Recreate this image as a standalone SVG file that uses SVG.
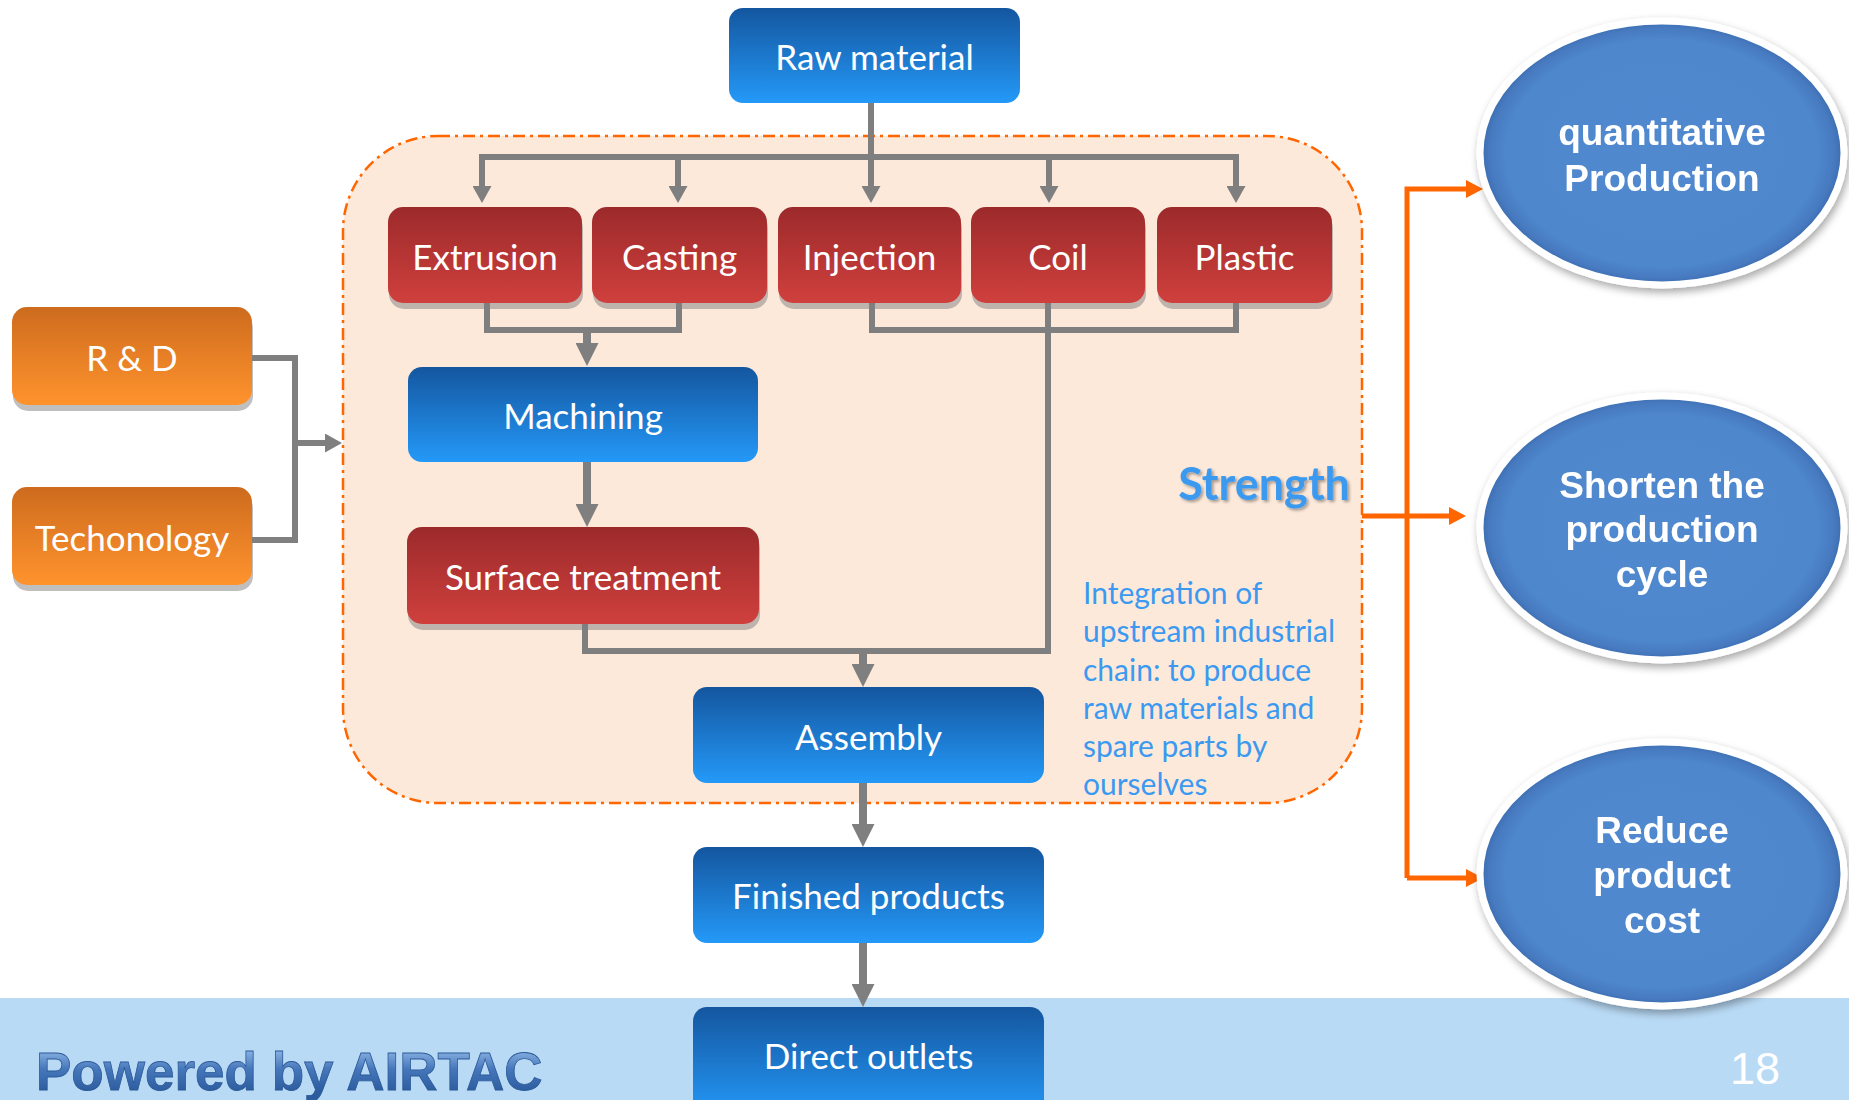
<svg xmlns="http://www.w3.org/2000/svg" width="1849" height="1100" viewBox="0 0 1849 1100">
  <defs>
    <linearGradient id="gBlue" x1="0" y1="0" x2="0" y2="1">
      <stop offset="0" stop-color="#14569f"/>
      <stop offset="1" stop-color="#2499f8"/>
    </linearGradient>
    <linearGradient id="gRed" x1="0" y1="0" x2="0" y2="1">
      <stop offset="0" stop-color="#9c2a2b"/>
      <stop offset="1" stop-color="#cf403d"/>
    </linearGradient>
    <linearGradient id="gOrange" x1="0" y1="0" x2="0" y2="1">
      <stop offset="0" stop-color="#cd6b1e"/>
      <stop offset="1" stop-color="#ff932d"/>
    </linearGradient>
    <radialGradient id="gEll" cx="0.5" cy="0.5" r="0.5">
      <stop offset="0" stop-color="#5189cf"/>
      <stop offset="0.86" stop-color="#4f87cc"/>
      <stop offset="0.95" stop-color="#4679bf"/>
      <stop offset="1" stop-color="#3a6aab"/>
    </radialGradient>
    <linearGradient id="gLogo" x1="0" y1="1050" x2="0" y2="1092" gradientUnits="userSpaceOnUse">
      <stop offset="0" stop-color="#8bb3e3"/>
      <stop offset="0.45" stop-color="#4677bb"/>
      <stop offset="1" stop-color="#2c5c9e"/>
    </linearGradient>
    <filter id="ellShadow" x="-10%" y="-10%" width="125%" height="130%">
      <feGaussianBlur in="SourceAlpha" stdDeviation="4"/>
      <feOffset dx="2" dy="4" result="b"/>
      <feComponentTransfer><feFuncA type="linear" slope="0.35"/></feComponentTransfer>
      <feMerge><feMergeNode/><feMergeNode in="SourceGraphic"/></feMerge>
    </filter>
    <filter id="txtShadow" x="-10%" y="-20%" width="125%" height="150%">
      <feGaussianBlur in="SourceAlpha" stdDeviation="1.5"/>
      <feOffset dx="2" dy="2"/>
      <feComponentTransfer><feFuncA type="linear" slope="0.35"/></feComponentTransfer>
      <feMerge><feMergeNode/><feMergeNode in="SourceGraphic"/></feMerge>
    </filter>
    <marker id="arrS" markerUnits="userSpaceOnUse" markerWidth="18" markerHeight="19" refX="2" refY="9.5" orient="auto">
      <path d="M0,0 L17,9.5 L0,19 z" fill="#7f7f7f"/>
    </marker>
    <marker id="arrL" markerUnits="userSpaceOnUse" markerWidth="23" markerHeight="23" refX="2" refY="11.5" orient="auto">
      <path d="M0,0 L23,11.5 L0,23 z" fill="#7f7f7f"/>
    </marker>
    <marker id="arrO" markerUnits="userSpaceOnUse" markerWidth="18" markerHeight="18" refX="2" refY="9" orient="auto">
      <path d="M0,0 L17,9 L0,18 z" fill="#ff6600"/>
    </marker>
    <style>
      .lbl { font-family: Lato, "Liberation Sans", sans-serif; font-size: 35px; fill: #ffffff; text-anchor: middle; }
      .ell { font-family: "Liberation Sans", Arial, sans-serif; font-weight: bold; font-size: 37px; fill: #ffffff; text-anchor: middle; }
      .blue { fill: url(#gBlue); }
      .red { fill: url(#gRed); }
      .org { fill: url(#gOrange); }
      .shd { fill: #7f7f7f; opacity: 0.5; }
      .gline { fill: none; stroke: #7f7f7f; stroke-width: 6; stroke-linejoin: miter; }
      .gthick { fill: none; stroke: #7f7f7f; stroke-width: 8; }
      .oline { fill: none; stroke: #ff6600; stroke-width: 5; }
      .note { font-family: Lato, "Liberation Sans", sans-serif; font-size: 30px; fill: #3b9af0; }
      .eshape { fill: url(#gEll); stroke: #ffffff; stroke-width: 7; }
    </style>
  </defs>

  <rect x="0" y="0" width="1849" height="1100" fill="#ffffff"/>
  <!-- footer band -->
  <rect x="0" y="998" width="1849" height="102" fill="#b9daf5"/>

  <!-- in-house production zone -->
  <g id="zone">
    <rect x="343" y="136" width="1019" height="667" rx="95" ry="95" fill="#fde9da" stroke="#ff6600" stroke-width="2.5" stroke-dasharray="12 5 3 5"/>
    <text x="1350" y="500" font-family="Lato, 'Liberation Sans', sans-serif" font-weight="bold" font-size="45" fill="#3b9af0" text-anchor="end" filter="url(#txtShadow)">Strength</text>
    <text class="note">
      <tspan x="1083" y="604">Integration of</tspan>
      <tspan x="1083" y="642">upstream industrial</tspan>
      <tspan x="1083" y="681">chain: to produce</tspan>
      <tspan x="1083" y="719">raw materials and</tspan>
      <tspan x="1083" y="757">spare parts by</tspan>
      <tspan x="1083" y="795">ourselves</tspan>
    </text>
  </g>

  <!-- connectors -->
  <g id="connectors">
    <path class="gline" d="M871,103 V188" marker-end="url(#arrS)"/>
    <path class="gline" d="M871,157 H482 V188" marker-end="url(#arrS)"/>
    <path class="gline" d="M871,157 H678 V188" marker-end="url(#arrS)"/>
    <path class="gline" d="M871,157 H1049 V188" marker-end="url(#arrS)"/>
    <path class="gline" d="M871,157 H1236 V188" marker-end="url(#arrS)"/>
    <path class="gline" d="M487,303 V330 H679 V303"/>
    <path class="gthick" d="M587,330 V345" marker-end="url(#arrL)"/>
    <path class="gthick" d="M587,462 V506" marker-end="url(#arrL)"/>
    <path class="gline" d="M872,303 V330 H1236 V303"/>
    <path class="gline" d="M585,624 V651 H1048 V303"/>
    <path class="gthick" d="M863,651 V666" marker-end="url(#arrL)"/>
    <path class="gthick" d="M863,783 V826" marker-end="url(#arrL)"/>
    <path class="gthick" d="M863,943 V986" marker-end="url(#arrL)"/>
    <path class="gline" d="M252,358 H295 V540 H252"/>
    <path class="gline" d="M295,443 H327" marker-end="url(#arrS)"/>
    <path class="oline" d="M1362,516 H1451" marker-end="url(#arrO)"/>
    <path class="oline" d="M1407,878 V189 H1468" marker-end="url(#arrO)"/>
    <path class="oline" d="M1407,878 H1468" marker-end="url(#arrO)"/>
  </g>

  <!-- process boxes -->
  <g id="raw-material">
    <rect class="blue" x="729" y="8" width="291" height="95" rx="14"/>
    <text class="lbl" x="874.5" y="69.5">Raw material</text>
  </g>
  <g id="extrusion">
    <rect class="shd" x="389" y="213" width="194" height="96" rx="15"/>
    <rect class="red" x="388" y="207" width="194" height="96" rx="15"/>
    <text class="lbl" x="485" y="269.5">Extrusion</text>
  </g>
  <g id="casting">
    <rect class="shd" x="593" y="213" width="175" height="96" rx="15"/>
    <rect class="red" x="592" y="207" width="175" height="96" rx="15"/>
    <text class="lbl" x="679.5" y="269.5">Casting</text>
  </g>
  <g id="injection">
    <rect class="shd" x="779" y="213" width="183" height="96" rx="15"/>
    <rect class="red" x="778" y="207" width="183" height="96" rx="15"/>
    <text class="lbl" x="869.5" y="269.5">Injection</text>
  </g>
  <g id="coil">
    <rect class="shd" x="972" y="213" width="174" height="96" rx="15"/>
    <rect class="red" x="971" y="207" width="174" height="96" rx="15"/>
    <text class="lbl" x="1058" y="269.5">Coil</text>
  </g>
  <g id="plastic">
    <rect class="shd" x="1158" y="213" width="175" height="96" rx="15"/>
    <rect class="red" x="1157" y="207" width="175" height="96" rx="15"/>
    <text class="lbl" x="1244.5" y="269.5">Plastic</text>
  </g>
  <g id="machining">
    <rect class="blue" x="408" y="367" width="350" height="95" rx="14"/>
    <text class="lbl" x="583" y="429">Machining</text>
  </g>
  <g id="surface-treatment">
    <rect class="shd" x="408" y="533" width="352" height="97" rx="15"/>
    <rect class="red" x="407" y="527" width="352" height="97" rx="15"/>
    <text class="lbl" x="583" y="589.5">Surface treatment</text>
  </g>
  <g id="assembly">
    <rect class="blue" x="693" y="687" width="351" height="96" rx="14"/>
    <text class="lbl" x="868.5" y="749.5">Assembly</text>
  </g>
  <g id="finished-products">
    <rect class="blue" x="693" y="847" width="351" height="96" rx="14"/>
    <text class="lbl" x="868.5" y="909">Finished products</text>
  </g>
  <g id="direct-outlets">
    <rect class="blue" x="693" y="1007" width="351" height="110" rx="14"/>
    <text class="lbl" x="868.5" y="1069">Direct outlets</text>
  </g>
  <g id="rnd">
    <rect class="shd" x="13" y="313" width="240" height="98" rx="15"/>
    <rect class="org" x="12" y="307" width="240" height="98" rx="15"/>
    <text class="lbl" x="132" y="370.5">R &amp; D</text>
  </g>
  <g id="technology">
    <rect class="shd" x="13" y="493" width="240" height="98" rx="15"/>
    <rect class="org" x="12" y="487" width="240" height="98" rx="15"/>
    <text class="lbl" x="132" y="550.5">Techonology</text>
  </g>

  <!-- outcome ellipses -->
  <g id="quantitative-production" filter="url(#ellShadow)">
    <ellipse class="eshape" cx="1662" cy="153" rx="182" ry="132"/>
    <text class="ell" x="1662" y="145">quantitative</text>
    <text class="ell" x="1662" y="191">Production</text>
  </g>
  <g id="shorten-cycle" filter="url(#ellShadow)">
    <ellipse class="eshape" cx="1662" cy="528" rx="182" ry="132"/>
    <text class="ell" x="1662" y="498">Shorten the</text>
    <text class="ell" x="1662" y="542">production</text>
    <text class="ell" x="1662" y="587">cycle</text>
  </g>
  <g id="reduce-cost" filter="url(#ellShadow)">
    <ellipse class="eshape" cx="1662" cy="874" rx="182" ry="132"/>
    <text class="ell" x="1662" y="843">Reduce</text>
    <text class="ell" x="1662" y="888">product</text>
    <text class="ell" x="1662" y="933">cost</text>
  </g>

  <!-- footer -->
  <g id="footer">
    <text x="36" y="1090" font-family="'Liberation Sans', Arial, sans-serif" font-weight="bold" font-size="53" fill="url(#gLogo)" stroke="#2c5a99" stroke-width="0.8">Powered by AIRTAC</text>
    <text x="1730" y="1084" font-family="'Liberation Sans', Arial, sans-serif" font-size="45" fill="#ffffff">18</text>
  </g>
</svg>
